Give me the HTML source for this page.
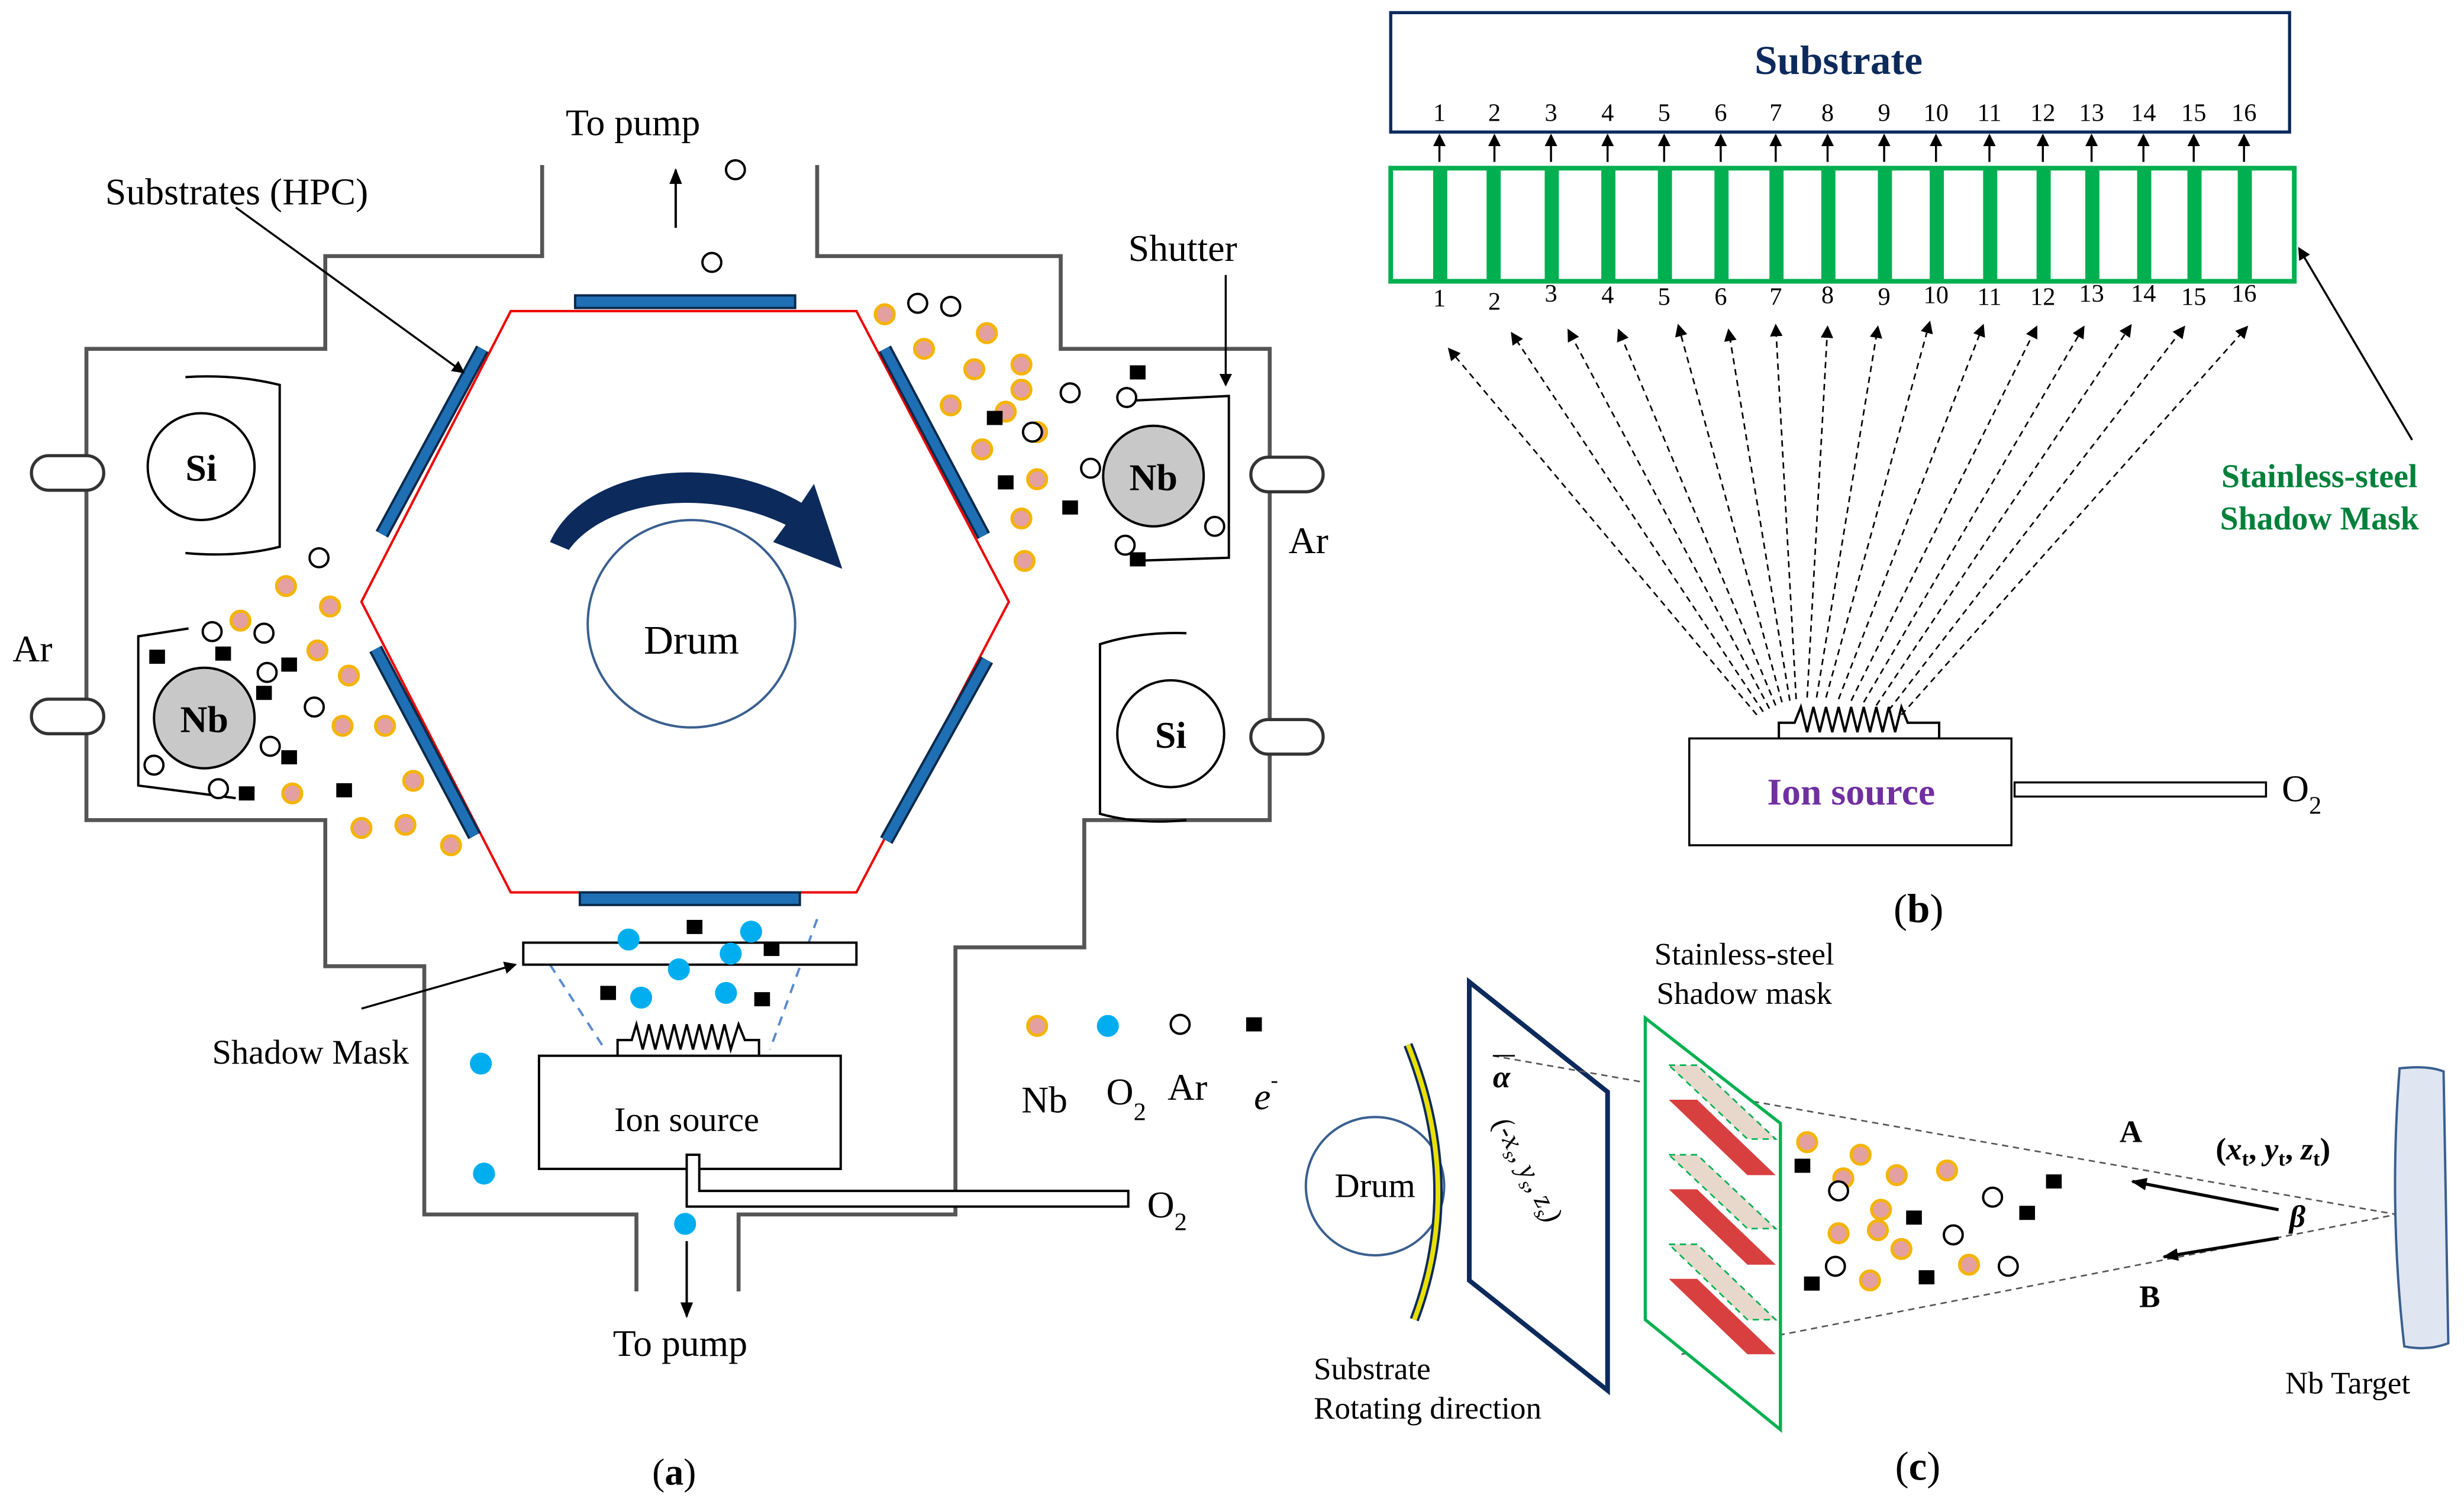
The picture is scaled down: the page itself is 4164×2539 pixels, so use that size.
<!DOCTYPE html>
<html><head><meta charset="utf-8"><style>
html,body{margin:0;padding:0;background:#fff;}
svg{display:block;}
text{font-family:"Liberation Serif",serif;}
</style></head><body>
<svg width="4164" height="2539" viewBox="0 0 1568 956" xmlns="http://www.w3.org/2000/svg">
<defs>
<marker id="ah" markerWidth="8" markerHeight="8" refX="7" refY="4" orient="auto" markerUnits="userSpaceOnUse"><path d="M0,0 L8,4 L0,8 z" fill="#000"/></marker>
<marker id="ahs" markerWidth="10" markerHeight="10" refX="9" refY="5" orient="auto" markerUnits="userSpaceOnUse"><path d="M0,1 L10,5 L0,9 z" fill="#000"/></marker>
<g id="nb"><circle r="6" fill="#e4a0a0" stroke="#f4b400" stroke-width="2"/></g>
<g id="ar"><circle r="6" fill="#fff" stroke="#000" stroke-width="1.5"/></g>
<g id="el"><rect x="-5" y="-4.5" width="10" height="9" fill="#000"/></g>
<g id="o2"><circle r="7" fill="#00aeef"/></g>
</defs>
<rect width="1568" height="956" fill="#fff"/>

<!-- ===== Panel (a) ===== -->
<g fill="none" stroke="#555" stroke-width="2.5">
<polyline points="345,105 345,163 207,163 207,222 55,222 55,522 207,522 207,615 270,615 270,773 405,773 405,822"/>
<polyline points="520,105 520,163 675,163 675,222 808,222 808,522 690,522 690,603 608,603 608,773 470,773 470,822"/>
</g>
<g fill="#fff" stroke="#333" stroke-width="2">
<rect x="20" y="290" width="46" height="22" rx="11"/>
<rect x="20" y="445" width="46" height="22" rx="11"/>
<rect x="796" y="291" width="46" height="22" rx="11"/>
<rect x="796" y="458" width="46" height="22" rx="11"/>
</g>
<polygon points="325,198 545,198 642,383 545,568 325,568 230,383" fill="none" stroke="#e00" stroke-width="1.5"/>
<g fill="#1f6fb5" stroke="#0b2a4a" stroke-width="1.5">
<rect x="366" y="188" width="140" height="8"/>
<rect x="369" y="568" width="140" height="8"/>
</g>
<g stroke="#0b2a4a" stroke-width="9" stroke-linecap="butt"><line x1="307" y1="222" x2="243" y2="340"/><line x1="239" y1="413" x2="302" y2="532"/><line x1="563" y1="222" x2="626" y2="341"/><line x1="628" y1="420" x2="564" y2="535"/></g>
<g stroke="#1f6fb5" stroke-width="6"><line x1="307" y1="222" x2="243" y2="340"/><line x1="239" y1="413" x2="302" y2="532"/><line x1="563" y1="222" x2="626" y2="341"/><line x1="628" y1="420" x2="564" y2="535"/></g>
<circle cx="440" cy="397" r="66" fill="none" stroke="#3a5f8f" stroke-width="1.5"/>
<text x="440" y="416" font-size="26" text-anchor="middle">Drum</text>
<path d="M350,345 C370,300 450,285 510,320 L518,308 L536,362 L492,345 L500,334 C450,310 385,318 362,350 z" fill="#0d2a5c"/>
<!-- Si / Nb -->
<circle cx="128" cy="297" r="34" fill="#fff" stroke="#000" stroke-width="1.5"/><text x="128" y="306" font-size="24" text-anchor="middle" font-weight="bold">Si</text>
<path d="M118,240 Q150,238 178,245 L178,348 Q150,355 118,352" fill="none" stroke="#000" stroke-width="1.5"/>
<circle cx="745" cy="467" r="34" fill="#fff" stroke="#000" stroke-width="1.5"/><text x="745" y="476" font-size="24" text-anchor="middle" font-weight="bold">Si</text>
<path d="M755,403 Q725,402 700,410 L700,518 Q725,525 755,522" fill="none" stroke="#000" stroke-width="1.5"/>
<path d="M120,400 L88,405 L88,500 L150,508" fill="none" stroke="#000" stroke-width="1.5"/>
<circle cx="130" cy="457" r="32" fill="#c8c8c8" stroke="#000" stroke-width="1.5"/><text x="130" y="466" font-size="24" text-anchor="middle" font-weight="bold">Nb</text>
<path d="M720,255 L782,252 L782,355 L720,357" fill="none" stroke="#000" stroke-width="1.5"/>
<circle cx="734" cy="303" r="32" fill="#c8c8c8" stroke="#000" stroke-width="1.5"/><text x="734" y="312" font-size="24" text-anchor="middle" font-weight="bold">Nb</text>
<!-- shadow mask / ion source -->
<line x1="350" y1="614" x2="385" y2="668" stroke="#5b8bd0" stroke-width="1.5" stroke-dasharray="6,5"/>
<line x1="520" y1="585" x2="490" y2="668" stroke="#5b8bd0" stroke-width="1.5" stroke-dasharray="6,5"/>
<rect x="333" y="600" width="212" height="14" fill="#fff" stroke="#000" stroke-width="1.5"/>
<polyline points="393,672 393,662 402,662 405,652 409,668 413,652 417,668 421,652 425,668 429,652 433,668 437,652 441,668 445,652 449,668 453,652 457,668 461,652 465,668 470,652 474,662 483,662 483,672" fill="none" stroke="#000" stroke-width="1.5"/>
<rect x="343" y="672" width="192" height="72" fill="#fff" stroke="#000" stroke-width="1.5"/>
<text x="437" y="720" font-size="22" text-anchor="middle">Ion source</text>
<path d="M437,735 L445,735 L445,758 L718,758 L718,768 L437,768 z" fill="#fff" stroke="#000" stroke-width="1.5"/>
<line x1="437" y1="790" x2="437" y2="838" stroke="#000" stroke-width="1.5" marker-end="url(#ahs)"/>
<line x1="430" y1="145" x2="430" y2="108" stroke="#000" stroke-width="1.5" marker-end="url(#ahs)"/>
<!-- labels -->
<g font-size="24">
<text x="360" y="86">To pump</text>
<text x="67" y="130">Substrates (HPC)</text>
<text x="718" y="166">Shutter</text>
<text x="820" y="352">Ar</text>
<text x="8" y="421">Ar</text>
<text x="135" y="677" font-size="22">Shadow Mask</text>
<text x="730" y="775">O<tspan font-size="16" dy="8">2</tspan></text>
<text x="390" y="863">To pump</text>
<text x="415" y="945">(<tspan font-weight="bold">a</tspan>)</text>
<text x="650" y="708">Nb</text>
<text x="704" y="703">O<tspan font-size="16" dy="10">2</tspan></text>
<text x="743" y="700">Ar</text>
<text x="798" y="706" font-style="italic">e<tspan font-size="14" dy="-14">-</tspan></text>
</g>
<line x1="150" y1="132" x2="295" y2="237" stroke="#000" stroke-width="1.3" marker-end="url(#ah)"/>
<line x1="780" y1="175" x2="780" y2="245" stroke="#000" stroke-width="1.3" marker-end="url(#ah)"/>
<line x1="230" y1="642" x2="328" y2="614" stroke="#000" stroke-width="1.3" marker-end="url(#ah)"/>
<use href="#nb" x="660" y="653"/><use href="#o2" x="705" y="653"/><use href="#ar" x="751" y="652"/><use href="#el" x="798" y="652"/>
<!-- particles a -->
<g>
<use href="#nb" x="563" y="200"/><use href="#nb" x="588" y="222"/><use href="#nb" x="628" y="212"/><use href="#nb" x="620" y="235"/><use href="#nb" x="650" y="232"/><use href="#nb" x="650" y="248"/><use href="#nb" x="605" y="258"/><use href="#nb" x="640" y="262"/><use href="#nb" x="625" y="286"/><use href="#nb" x="660" y="275"/><use href="#nb" x="650" y="330"/><use href="#nb" x="652" y="357"/><use href="#nb" x="660" y="305"/>
<use href="#nb" x="182" y="373"/><use href="#nb" x="210" y="386"/><use href="#nb" x="202" y="414"/><use href="#nb" x="222" y="430"/><use href="#nb" x="153" y="395"/><use href="#nb" x="218" y="462"/><use href="#nb" x="245" y="462"/><use href="#nb" x="263" y="497"/><use href="#nb" x="186" y="505"/><use href="#nb" x="230" y="527"/><use href="#nb" x="258" y="525"/><use href="#nb" x="287" y="538"/>
<use href="#ar" x="468" y="108"/><use href="#ar" x="453" y="167"/><use href="#ar" x="584" y="193"/><use href="#ar" x="605" y="195"/><use href="#ar" x="717" y="253"/><use href="#ar" x="657" y="275"/><use href="#ar" x="681" y="250"/><use href="#ar" x="694" y="298"/><use href="#ar" x="716" y="347"/><use href="#ar" x="773" y="335"/>
<use href="#ar" x="203" y="355"/><use href="#ar" x="135" y="402"/><use href="#ar" x="168" y="403"/><use href="#ar" x="170" y="428"/><use href="#ar" x="200" y="450"/><use href="#ar" x="172" y="475"/><use href="#ar" x="98" y="487"/><use href="#ar" x="139" y="502"/>
<use href="#el" x="724" y="237"/><use href="#el" x="633" y="266"/><use href="#el" x="640" y="307"/><use href="#el" x="681" y="323"/><use href="#el" x="724" y="356"/>
<use href="#el" x="100" y="418"/><use href="#el" x="142" y="416"/><use href="#el" x="184" y="423"/><use href="#el" x="168" y="441"/><use href="#el" x="184" y="482"/><use href="#el" x="157" y="505"/><use href="#el" x="219" y="503"/>
<use href="#el" x="442" y="590"/><use href="#el" x="491" y="604"/><use href="#el" x="387" y="632"/><use href="#el" x="485" y="636"/>
<use href="#o2" x="478" y="593"/><use href="#o2" x="400" y="598"/><use href="#o2" x="465" y="607"/><use href="#o2" x="432" y="617"/><use href="#o2" x="408" y="635"/><use href="#o2" x="462" y="632"/><use href="#o2" x="306" y="677"/><use href="#o2" x="308" y="747"/><use href="#o2" x="436" y="779"/>
</g>

<!-- ===== Panel (b) ===== -->
<rect x="885" y="8" width="572" height="76" fill="#fff" stroke="#0d2a5c" stroke-width="2"/>
<text x="1170" y="47" font-size="26" font-weight="bold" fill="#0d2a5c" text-anchor="middle">Substrate</text>
<rect x="885" y="107" width="575" height="72" fill="#fff" stroke="#00b050" stroke-width="3"/>
<g id="bcols" font-size="16" text-anchor="middle">
<g fill="#00b050">
<rect x="912" y="107" width="9" height="72"/><rect x="946" y="107" width="9" height="72"/><rect x="983" y="107" width="9" height="72"/><rect x="1019" y="107" width="9" height="72"/><rect x="1055" y="107" width="9" height="72"/><rect x="1091" y="107" width="9" height="72"/><rect x="1126" y="107" width="9" height="72"/><rect x="1159" y="107" width="9" height="72"/><rect x="1195" y="107" width="9" height="72"/><rect x="1228" y="107" width="9" height="72"/><rect x="1262" y="107" width="9" height="72"/><rect x="1296" y="107" width="9" height="72"/><rect x="1327" y="107" width="9" height="72"/><rect x="1360" y="107" width="9" height="72"/><rect x="1392" y="107" width="9" height="72"/><rect x="1424" y="107" width="9" height="72"/>
</g>
<text x="916" y="77">1</text><text x="951" y="77">2</text><text x="987" y="77">3</text><text x="1023" y="77">4</text><text x="1059" y="77">5</text><text x="1095" y="77">6</text><text x="1130" y="77">7</text><text x="1163" y="77">8</text><text x="1199" y="77">9</text><text x="1232" y="77">10</text><text x="1266" y="77">11</text><text x="1300" y="77">12</text><text x="1331" y="77">13</text><text x="1364" y="77">14</text><text x="1396" y="77">15</text><text x="1428" y="77">16</text>
<text x="916" y="195">1</text><text x="951" y="197">2</text><text x="987" y="192">3</text><text x="1023" y="193">4</text><text x="1059" y="194">5</text><text x="1095" y="194">6</text><text x="1130" y="194">7</text><text x="1163" y="193">8</text><text x="1199" y="194">9</text><text x="1232" y="193">10</text><text x="1266" y="194">11</text><text x="1300" y="194">12</text><text x="1331" y="192">13</text><text x="1364" y="192">14</text><text x="1396" y="194">15</text><text x="1428" y="192">16</text>
</g>
<g stroke="#000" stroke-width="1.3" marker-end="url(#ah)">
<line x1="916" y1="103" x2="916" y2="86"/><line x1="951" y1="103" x2="951" y2="86"/><line x1="987" y1="103" x2="987" y2="86"/><line x1="1023" y1="103" x2="1023" y2="86"/><line x1="1059" y1="103" x2="1059" y2="86"/><line x1="1095" y1="103" x2="1095" y2="86"/><line x1="1130" y1="103" x2="1130" y2="86"/><line x1="1163" y1="103" x2="1163" y2="86"/><line x1="1199" y1="103" x2="1199" y2="86"/><line x1="1232" y1="103" x2="1232" y2="86"/><line x1="1266" y1="103" x2="1266" y2="86"/><line x1="1300" y1="103" x2="1300" y2="86"/><line x1="1331" y1="103" x2="1331" y2="86"/><line x1="1364" y1="103" x2="1364" y2="86"/><line x1="1396" y1="103" x2="1396" y2="86"/><line x1="1428" y1="103" x2="1428" y2="86"/>
</g>
<g stroke="#000" stroke-width="1" stroke-dasharray="4,3" marker-end="url(#ah)">
<line x1="1118" y1="455" x2="922" y2="222"/><line x1="1122" y1="453" x2="962" y2="212"/><line x1="1126" y1="451" x2="998" y2="210"/><line x1="1130" y1="449" x2="1030" y2="210"/><line x1="1134" y1="447" x2="1068" y2="207"/><line x1="1139" y1="446" x2="1100" y2="210"/><line x1="1143" y1="445" x2="1130" y2="207"/><line x1="1150" y1="444" x2="1163" y2="208"/><line x1="1156" y1="444" x2="1195" y2="208"/><line x1="1162" y1="444" x2="1228" y2="205"/><line x1="1170" y1="445" x2="1262" y2="207"/><line x1="1178" y1="446" x2="1296" y2="208"/><line x1="1186" y1="447" x2="1326" y2="208"/><line x1="1194" y1="449" x2="1356" y2="207"/><line x1="1202" y1="452" x2="1390" y2="208"/><line x1="1210" y1="455" x2="1430" y2="208"/>
</g>
<polyline points="1132,470 1132,460 1142,460 1146,450 1150,466 1154,450 1158,466 1162,450 1166,466 1170,450 1174,466 1178,450 1182,466 1186,450 1190,466 1194,450 1198,466 1202,450 1206,466 1210,450 1214,460 1234,460 1234,470" fill="none" stroke="#000" stroke-width="1.5"/>
<rect x="1075" y="470" width="205" height="68" fill="#fff" stroke="#000" stroke-width="1.3"/>
<text x="1178" y="512" font-size="24" font-weight="bold" fill="#7030a0" text-anchor="middle">Ion source</text>
<rect x="1282" y="498" width="160" height="9" fill="#fff" stroke="#000" stroke-width="1.3"/>
<text x="1452" y="510" font-size="24">O<tspan font-size="16" dy="8">2</tspan></text>
<text x="1476" y="310" font-size="21" font-weight="bold" fill="#00803a" text-anchor="middle">Stainless-steel</text>
<text x="1476" y="337" font-size="21" font-weight="bold" fill="#00803a" text-anchor="middle">Shadow Mask</text>
<line x1="1535" y1="280" x2="1463" y2="158" stroke="#000" stroke-width="1.3" marker-end="url(#ah)"/>
<text x="1205" y="587" font-size="26">(<tspan font-weight="bold">b</tspan>)</text>

<!-- ===== Panel (c) ===== -->
<circle cx="875" cy="755" r="44" fill="#fff" stroke="#3a5f8f" stroke-width="1.5"/>
<text x="875" y="762" font-size="22" text-anchor="middle">Drum</text>
<path d="M896,665 Q932,755 900,840" fill="none" stroke="#0d2a5c" stroke-width="6"/>
<path d="M896,665 Q932,755 900,840" fill="none" stroke="#e8e000" stroke-width="3"/>
<polygon points="935,625 1023,695 1023,885 935,815" fill="#fff" stroke="#0d2a5c" stroke-width="3"/>
<line x1="950" y1="672" x2="1525" y2="773" stroke="#555" stroke-width="1" stroke-dasharray="4,3"/>
<line x1="1070" y1="862" x2="1525" y2="773" stroke="#555" stroke-width="1" stroke-dasharray="4,3"/>
<text x="950" y="692" font-size="20" font-style="italic" font-weight="bold">α</text>
<line x1="950" y1="672" x2="964" y2="672" stroke="#000" stroke-width="1"/>
<text transform="translate(950,715) rotate(62)" font-size="18" font-style="italic">(-x<tspan font-size="12" dy="4">s</tspan><tspan dy="-4">, y</tspan><tspan font-size="12" dy="4">s</tspan><tspan dy="-4">, z</tspan><tspan font-size="12" dy="4">s</tspan><tspan dy="-4">)</tspan></text>
<polygon points="1047,648 1133,715 1133,910 1047,840" fill="#fff" stroke="#00b050" stroke-width="2"/>
<g>
<polygon points="1062,678 1080,678 1130,725 1112,725" fill="#e8d8cc" stroke="#00b050" stroke-dasharray="4,3"/>
<polygon points="1062,700 1080,700 1130,748 1112,748" fill="#d84040"/>
<polygon points="1062,735 1080,735 1130,782 1112,782" fill="#e8d8cc" stroke="#00b050" stroke-dasharray="4,3"/>
<polygon points="1062,757 1080,757 1130,805 1112,805" fill="#d84040"/>
<polygon points="1062,792 1080,792 1130,840 1112,840" fill="#e8d8cc" stroke="#00b050" stroke-dasharray="4,3"/>
<polygon points="1062,814 1080,814 1130,862 1112,862" fill="#d84040"/>
</g>
<text x="1110" y="614" font-size="20" text-anchor="middle">Stainless-steel</text>
<text x="1110" y="639" font-size="20" text-anchor="middle">Shadow mask</text>
<path d="M1527,680 Q1545,678 1555,682 L1558,855 Q1545,860 1530,857 Q1520,770 1527,680 z" fill="#dfe6f2" stroke="#3a5f8f" stroke-width="1.5"/>
<line x1="1450" y1="770" x2="1357" y2="752" stroke="#000" stroke-width="2" marker-end="url(#ahs)"/>
<line x1="1450" y1="788" x2="1377" y2="800" stroke="#000" stroke-width="2" marker-end="url(#ahs)"/>
<text x="1356" y="727" font-size="20" font-weight="bold" text-anchor="middle">A</text>
<text x="1368" y="832" font-size="20" font-weight="bold" text-anchor="middle">B</text>
<text x="1462" y="781" font-size="20" font-style="italic" font-weight="bold" text-anchor="middle">β</text>
<text x="1410" y="738" font-size="20" font-weight="bold">(<tspan font-style="italic">x</tspan><tspan font-size="13" dy="4">t</tspan><tspan dy="-4">, </tspan><tspan font-style="italic">y</tspan><tspan font-size="13" dy="4">t</tspan><tspan dy="-4">, </tspan><tspan font-style="italic">z</tspan><tspan font-size="13" dy="4">t</tspan><tspan dy="-4">)</tspan></text>
<text x="1494" y="887" font-size="20" text-anchor="middle">Nb Target</text>
<text x="836" y="878" font-size="20">Substrate</text>
<text x="836" y="903" font-size="20">Rotating direction</text>
<text x="1206" y="942" font-size="26">(<tspan font-weight="bold">c</tspan>)</text>
<g>
<use href="#nb" x="1150" y="727"/><use href="#nb" x="1184" y="735"/><use href="#nb" x="1207" y="748"/><use href="#nb" x="1239" y="745"/><use href="#nb" x="1173" y="750"/><use href="#nb" x="1197" y="770"/><use href="#nb" x="1170" y="785"/><use href="#nb" x="1195" y="783"/><use href="#nb" x="1210" y="795"/><use href="#nb" x="1190" y="815"/><use href="#nb" x="1253" y="805"/>
<use href="#ar" x="1170" y="758"/><use href="#ar" x="1243" y="786"/><use href="#ar" x="1268" y="762"/><use href="#ar" x="1278" y="806"/><use href="#ar" x="1168" y="806"/>
<use href="#el" x="1147" y="742"/><use href="#el" x="1218" y="775"/><use href="#el" x="1290" y="772"/><use href="#el" x="1307" y="752"/><use href="#el" x="1153" y="817"/><use href="#el" x="1226" y="813"/>
</g>
</svg>
</body></html>
